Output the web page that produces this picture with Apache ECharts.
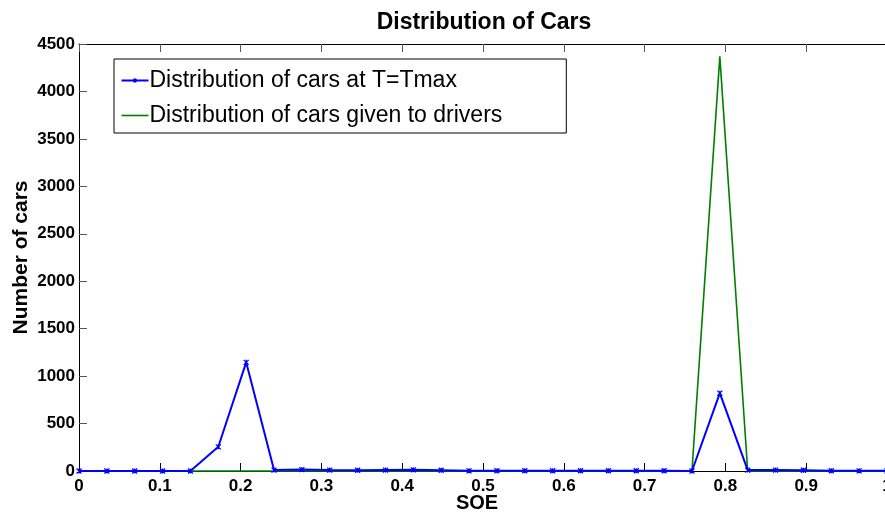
<!DOCTYPE html>
<html>
<head>
<meta charset="utf-8">
<script src="https://cdn.jsdelivr.net/npm/echarts@6/dist/echarts.min.js"></script>
<style>
  html, body { margin: 0; padding: 0; background: #fff; }
  #chart { width: 885px; height: 514px; }
</style>
</head>
<body>
<div id="chart"></div>
<script>
// State-of-energy bins (30 evenly spaced points from 0 to 1)
const soe = [
  0, 1/29, 2/29, 3/29, 4/29, 5/29, 6/29, 7/29, 8/29, 9/29,
  10/29, 11/29, 12/29, 13/29, 14/29, 15/29, 16/29, 17/29, 18/29, 19/29,
  20/29, 21/29, 22/29, 23/29, 24/29, 25/29, 26/29, 27/29, 28/29, 1
];

// Number of cars in each bin at T = Tmax
const carsAtTmax = [
  0, 0, 0, 0, 0, 255, 1145, 10, 15, 10,
  8, 10, 12, 8, 2, 3, 3, 3, 3, 3,
  3, 3, 0, 820, 10, 10, 8, 3, 2, 2
];

// Number of cars handed to drivers in each bin
const carsGiven = [
  0, 0, 0, 0, 0, 0, 0, 0, 0, 0,
  0, 0, 0, 0, 0, 0, 0, 0, 0, 0,
  0, 0, 0, 4370, 0, 0, 0, 0, 0, 0
];

const xTicks = [0, 0.1, 0.2, 0.3, 0.4, 0.5, 0.6, 0.7, 0.8, 0.9, 1];
const yTicks = [0, 500, 1000, 1500, 2000, 2500, 3000, 3500, 4000, 4500];

const seriesNames = ['Distribution of cars at T=Tmax', 'Distribution of cars given to drivers'];

const pairs = (xs, ys) => xs.map((x, i) => [x, ys[i]]);

const FONT = 'Liberation Sans, Arial, Helvetica, sans-serif';
const BLUE = '#0000ff';
const GREEN = '#008000';

// small asterisk-like marker, stroked
const starMarker = 'path://M0,0L4,4M0,4L4,0M2,0L2,4';
// legend icons: 27x20 box with a horizontal line through the middle
const legendLineStar = 'path://M0,0M0,10L27,10M12,8.5L15,11.5M12,11.5L15,8.5M13.5,8L13.5,12M0,20';
const legendLine = 'path://M0,0M0,10L27,10M0,20';

const chart = echarts.init(document.getElementById('chart'), null, { renderer: 'canvas' });

chart.setOption({
  backgroundColor: '#ffffff',
  animation: false,
  title: {
    text: 'Distribution of Cars',
    left: 479,
    textAlign: 'center',
    top: 6,
    textStyle: { fontFamily: FONT, fontSize: 23, fontWeight: 'bold', color: '#000' }
  },
  legend: {
    orient: 'vertical',
    left: 114,
    top: 59,
    padding: [9, 64, 5, 5],
    itemGap: 10,
    itemWidth: 27,
    itemHeight: 20,
    backgroundColor: '#ffffff',
    borderColor: '#000',
    borderWidth: 1,
    borderRadius: 0,
    textStyle: { fontFamily: FONT, fontSize: 23, color: '#000', lineHeight: 24, padding: [0, 0, 0, -4] },
    data: [
      { name: seriesNames[0], icon: legendLineStar, itemStyle: { color: 'none', borderColor: BLUE, borderWidth: 2 } },
      { name: seriesNames[1], icon: legendLine, itemStyle: { color: 'none', borderColor: GREEN, borderWidth: 1.6 } }
    ]
  },
  grid: { left: 79, right: -2, top: 44, bottom: 43, containLabel: false, outerBoundsMode: 'none' },
  xAxis: [{
    type: 'value',
    min: 0, max: 1, interval: 0.1,
    name: 'SOE',
    nameLocation: 'middle',
    nameGap: 22,
    nameMoveOverlap: false,
    nameTextStyle: { fontFamily: FONT, fontSize: 20, fontWeight: 'bold', color: '#000', padding: [0, 12, 0, 0] },
    axisLine: { show: true, onZero: false, lineStyle: { color: '#000', width: 1 } },
    axisTick: { show: true, inside: true, length: 8, lineStyle: { color: '#000' } },
    axisLabel: {
      fontFamily: FONT, fontSize: 17, fontWeight: 'bold', color: '#000', margin: 7,
      formatter: v => {
        const t = xTicks.find(k => Math.abs(k - v) < 1e-9);
        return t === undefined ? '' : String(t);
      }
    },
    splitLine: { show: false }
  }, {
    type: 'value',
    position: 'top',
    min: 0, max: 1, interval: 0.1,
    axisLine: { show: true, onZero: false, lineStyle: { color: '#000', width: 1 } },
    axisTick: { show: true, inside: true, length: 8, lineStyle: { color: '#555' } },
    axisLabel: { show: false },
    splitLine: { show: false }
  }],
  yAxis: [{
    type: 'value',
    min: 0, max: 4500, interval: 500,
    name: 'Number of cars',
    nameLocation: 'middle',
    nameGap: 47,
    nameMoveOverlap: false,
    nameRotate: 90,
    nameTextStyle: { fontFamily: FONT, fontSize: 21, fontWeight: 'bold', color: '#000' },
    axisLine: { show: true, onZero: false, lineStyle: { color: '#000', width: 1 } },
    axisTick: { show: true, inside: true, length: 8, lineStyle: { color: '#555' } },
    axisLabel: {
      fontFamily: FONT, fontSize: 17, fontWeight: 'bold', color: '#000', margin: 4,
      formatter: v => (yTicks.indexOf(v) >= 0 ? String(v) : '')
    },
    splitLine: { show: false }
  }],
  series: [{
    name: seriesNames[0],
    type: 'line',
    data: pairs(soe, carsAtTmax),
    z: 3,
    showSymbol: true,
    symbol: starMarker,
    symbolSize: 5,
    itemStyle: { color: BLUE, borderColor: BLUE, borderWidth: 1.2 },
    lineStyle: { color: BLUE, width: 2 },
    clip: false
  }, {
    name: seriesNames[1],
    type: 'line',
    data: pairs(soe, carsGiven),
    z: 2,
    showSymbol: false,
    symbol: 'none',
    itemStyle: { color: GREEN },
    lineStyle: { color: GREEN, width: 1.6 },
    clip: false
  }]
});
</script>
</body>
</html>
